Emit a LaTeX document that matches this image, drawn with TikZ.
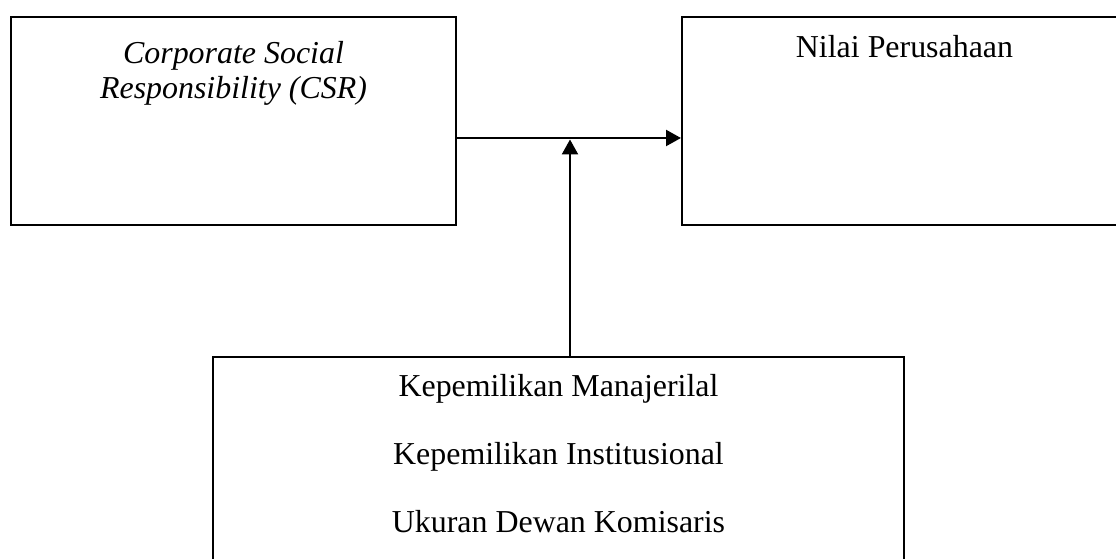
\documentclass[tikz,border=0pt]{standalone}
\usepackage{fontspec}
\setmainfont{Liberation Serif}
\usepackage{tikz}
\usetikzlibrary{arrows.meta, positioning, calc}
\tikzstyle{block} = [rectangle, minimum width=167.3pt, minimum height=78.2pt, draw=black, line width=0.8pt, inner sep=0pt]
\tikzstyle{caption} = [font=\fontsize{12}{14}\selectfont, anchor=base, inner sep=0pt]
\tikzstyle{arrow} = [line width=0.8pt, -{Triangle[length=5.6pt, width=6pt]}]

\begin{document}
\begin{tikzpicture}[x=0.376pt, y=-0.376pt]
\useasboundingbox (0,0) rectangle (1116,559);

% Variabel independen
\node (csr) [block] at (233.5,121) {};
\node (csrone) [caption] at (233.5,64) {\textit{Corporate Social}};
\node (csrtwo) [caption] at (233.5,99) {\textit{Responsibility (CSR)}};

% Variabel dependen
\node (nilai) [block] at (904.5,121) {};
\node (nilaitext) [caption] at (904.5,58) {Nilai Perusahaan};

% Variabel moderasi
\node (gcg) [block, minimum width=259.8pt, minimum height=86.5pt] at (558.5,472) {};
\node (manajerial) [caption] at (558.5,397) {Kepemilikan Manajerilal};
\node (institusional) [caption] at (558.5,465) {Kepemilikan Institusional};
\node (dewan) [caption] at (558.5,533) {Ukuran Dewan Komisaris};

% Hubungan
\coordinate (junction) at (570,139.5);
\draw [arrow] (csr.east |- 0,138) -- (nilai.west |- 0,138);
\draw [arrow] (gcg.north -| junction) -- (junction);

\end{tikzpicture}
\end{document}
